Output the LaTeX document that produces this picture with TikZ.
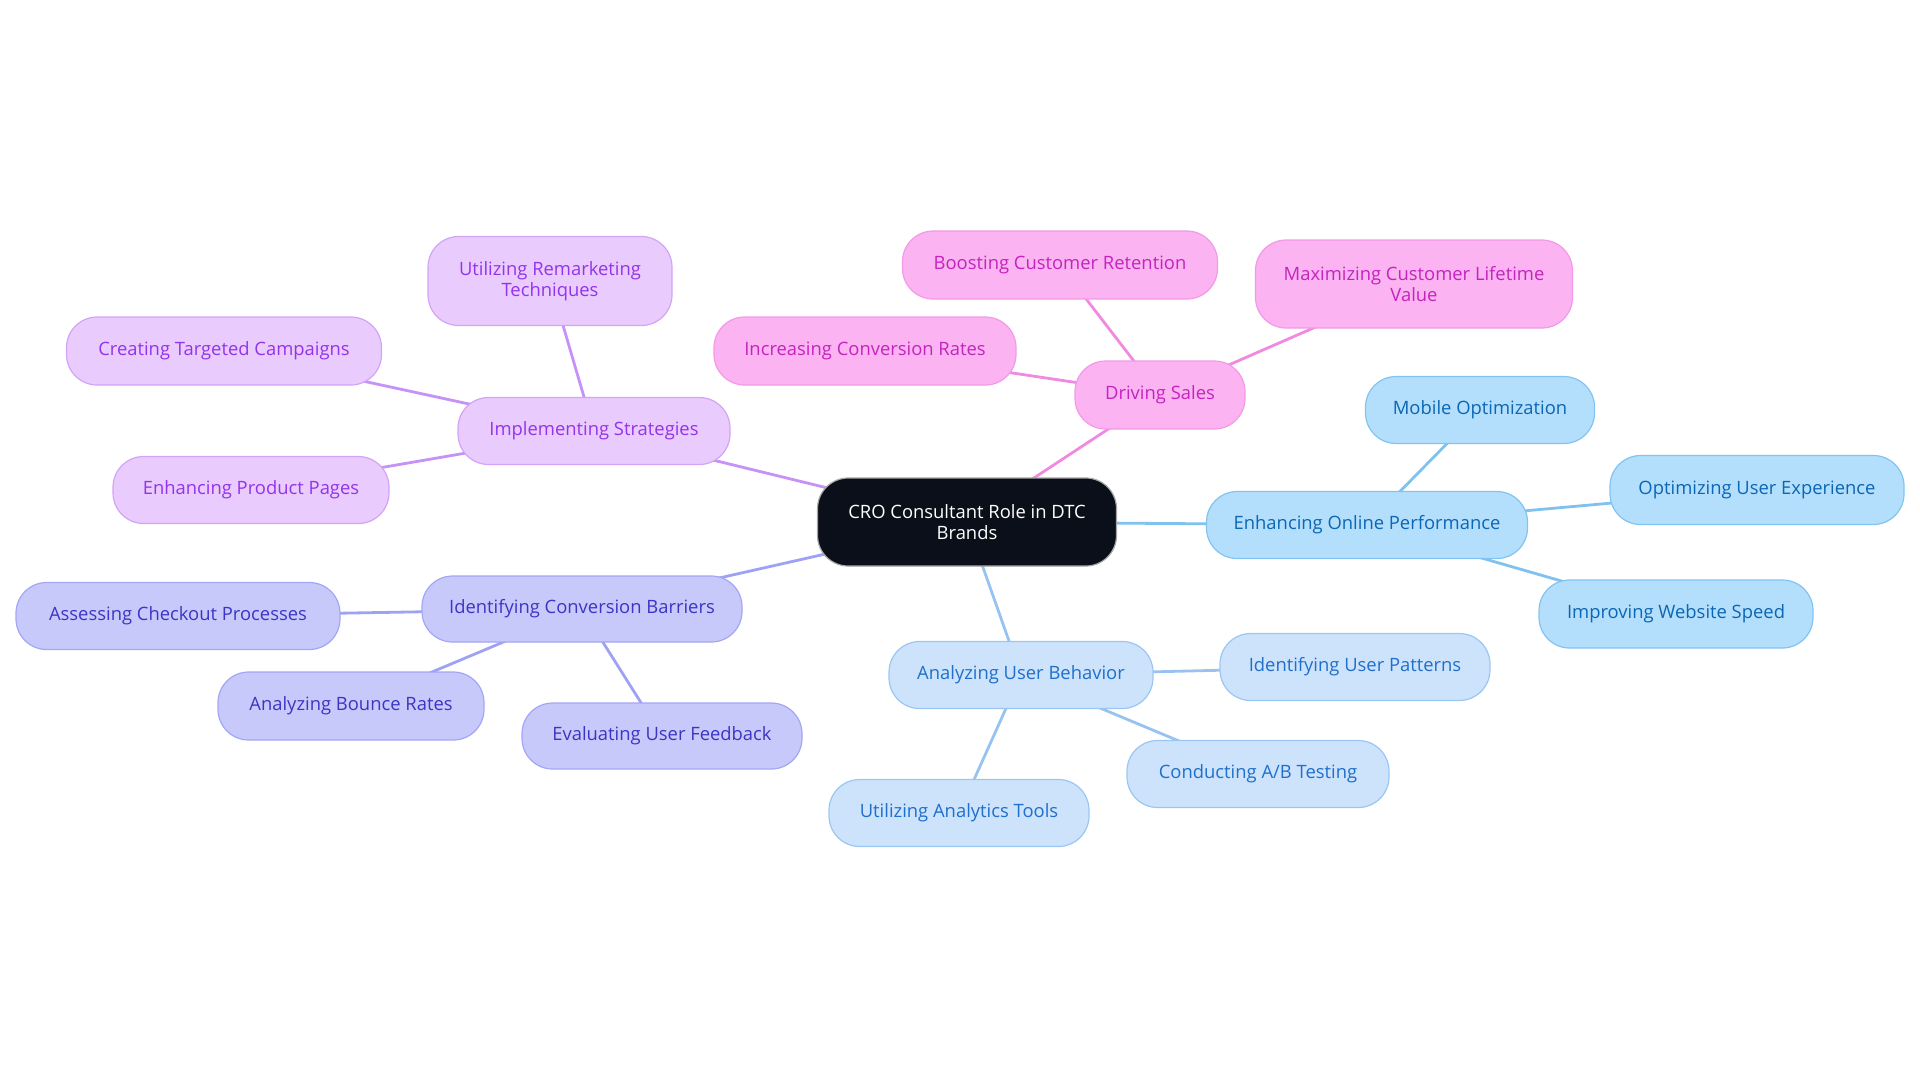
\documentclass[tikz,border=0pt]{standalone}
\usepackage{fontspec}
\setmainfont{Open Sans}
\usetikzlibrary{backgrounds}
\definecolor{pufill}{HTML}{E9CCFD}\definecolor{pudraw}{HTML}{D3A4F6}\definecolor{putext}{HTML}{9333EA}\definecolor{puline}{HTML}{C692F7}
\definecolor{pifill}{HTML}{FBB3F2}\definecolor{pidraw}{HTML}{F29AE8}\definecolor{pitext}{HTML}{C424BE}\definecolor{piline}{HTML}{F08AE0}
\definecolor{infill}{HTML}{C8C9FB}\definecolor{indraw}{HTML}{A3A6F5}\definecolor{intext}{HTML}{3B35C4}\definecolor{inline}{HTML}{9FA2F4}
\definecolor{lbfill}{HTML}{CDE3FB}\definecolor{lbdraw}{HTML}{9CC6F2}\definecolor{lbtext}{HTML}{1F6FCC}\definecolor{lbline}{HTML}{98C3F0}
\definecolor{skfill}{HTML}{B4DFFC}\definecolor{skdraw}{HTML}{82C3F1}\definecolor{sktext}{HTML}{0B66B4}\definecolor{skline}{HTML}{7FC2EE}
\definecolor{cefill}{HTML}{0B0F19}
\tikzset{
  box/.style={rectangle, rounded corners=23pt, line width=0.9pt, align=center, inner sep=0pt,
     font=\fontsize{13.8pt}{15.8pt}\selectfont},
  pubox/.style={box, fill=pufill, draw=pudraw, text=putext},
  pibox/.style={box, fill=pifill, draw=pidraw, text=pitext},
  inbox/.style={box, fill=infill, draw=indraw, text=intext},
  lbbox/.style={box, fill=lbfill, draw=lbdraw, text=lbtext},
  skbox/.style={box, fill=skfill, draw=skdraw, text=sktext},
  cebox/.style={box, fill=cefill, draw=gray!70, text=white},
  link/.style={line width=2.1pt},
}
\newcommand{\bx}[6]{\node[#1, minimum width=#4*0.75pt, minimum height=#5*0.75pt] (#2) at (#3) {#6};}
\begin{document}
\begin{tikzpicture}[x=0.75pt,y=-0.75pt]
\useasboundingbox (0,0) rectangle (1920,1083);
\bx{cebox}{ce}{967,522}{299}{88}{CRO Consultant Role in DTC\\Brands}
\bx{pubox}{is}{594,431}{272}{67}{Implementing Strategies}
\bx{pubox}{urt}{550,281}{244}{89}{Utilizing Remarketing\\Techniques}
\bx{pubox}{ctc}{224,351}{315}{68}{Creating Targeted Campaigns}
\bx{pubox}{epp}{251,490}{276}{67}{Enhancing Product Pages}
\bx{inbox}{icb}{582,609}{320}{66}{Identifying Conversion Barriers}
\bx{inbox}{acp}{178,616}{324}{67}{Assessing Checkout Processes}
\bx{inbox}{abr}{351,706}{266}{68}{Analyzing Bounce Rates}
\bx{inbox}{euf}{662,736}{280}{66}{Evaluating User Feedback}
\bx{pibox}{ds}{1160,395}{170}{68}{Driving Sales}
\bx{pibox}{bcr}{1060,265}{315}{68}{Boosting Customer Retention}
\bx{pibox}{mclv}{1414,284}{317}{88}{Maximizing Customer Lifetime\\Value}
\bx{pibox}{icr}{865,351}{302}{68}{Increasing Conversion Rates}
\bx{skbox}{eop}{1367,525}{321}{67}{Enhancing Online Performance}
\bx{skbox}{mo}{1480,410}{229}{67}{Mobile Optimization}
\bx{skbox}{oue}{1757,490}{294}{69}{Optimizing User Experience}
\bx{skbox}{iws}{1676,614}{274}{68}{Improving Website Speed}
\bx{lbbox}{aub}{1021,675}{264}{67}{Analyzing User Behavior}
\bx{lbbox}{iup}{1355,667}{270}{67}{Identifying User Patterns}
\bx{lbbox}{cab}{1258,774}{262}{67}{Conducting A/B Testing}
\bx{lbbox}{uat}{959,813}{260}{67}{Utilizing Analytics Tools}
\begin{scope}[on background layer]
\draw[link, puline] (ce.center) -- (is.center);
\draw[link, puline] (is.center) -- (urt.center);
\draw[link, puline] (is.center) -- (ctc.center);
\draw[link, puline] (is.center) -- (epp.center);
\draw[link, inline] (ce.center) -- (icb.center);
\draw[link, inline] (icb.center) -- (acp.center);
\draw[link, inline] (icb.center) -- (abr.center);
\draw[link, inline] (icb.center) -- (euf.center);
\draw[link, piline] (ce.center) -- (ds.center);
\draw[link, piline] (ds.center) -- (bcr.center);
\draw[link, piline] (ds.center) -- (mclv.center);
\draw[link, piline] (ds.center) -- (icr.center);
\draw[link, skline] (ce.center) -- (eop.center);
\draw[link, skline] (eop.center) -- (mo.center);
\draw[link, skline] (eop.center) -- (oue.center);
\draw[link, skline] (eop.center) -- (iws.center);
\draw[link, lbline] (ce.center) -- (aub.center);
\draw[link, lbline] (aub.center) -- (iup.center);
\draw[link, lbline] (aub.center) -- (cab.center);
\draw[link, lbline] (aub.center) -- (uat.center);
\end{scope}
\end{tikzpicture}
\end{document}
